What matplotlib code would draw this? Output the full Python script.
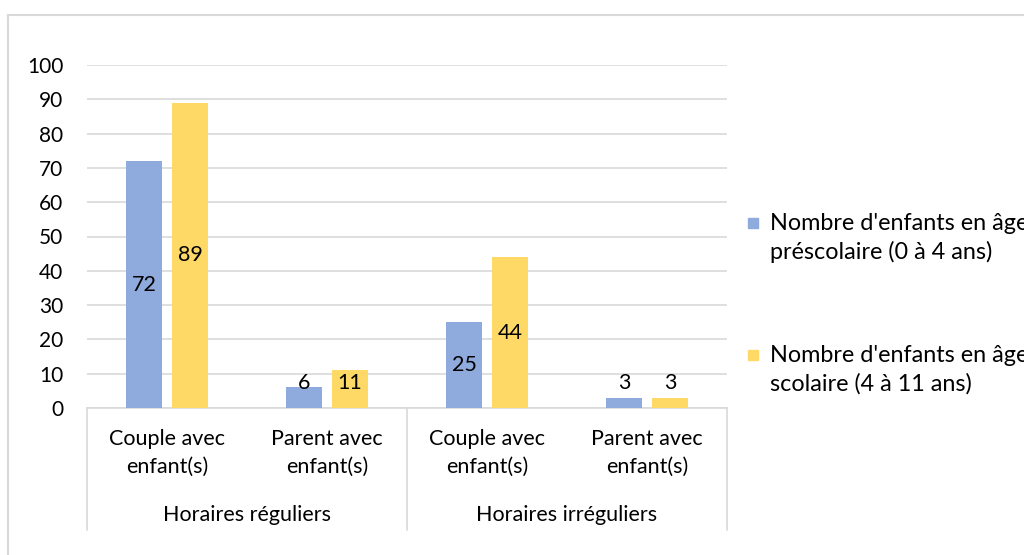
import matplotlib

matplotlib.use("Agg")
import matplotlib.pyplot as plt
from matplotlib.lines import Line2D
from matplotlib.patches import Rectangle

groups = ["Horaires réguliers", "Horaires irréguliers"]
categories = ["Couple avec\nenfant(s)", "Parent avec\nenfant(s)",
              "Couple avec\nenfant(s)", "Parent avec\nenfant(s)"]
series_names = ["Nombre d'enfants en âge\npréscolaire (0 à 4 ans)",
                "Nombre d'enfants en âge\nscolaire (4 à 11 ans)"]
prescolaire = [72, 6, 25, 3]
scolaire = [89, 11, 44, 3]
y_ticks = list(range(0, 101, 10))

BLUE = "#8FAADC"
YELLOW = "#FFD966"
GRID = "#D9D9D9"
FS = 15.5

plt.rcParams["font.family"] = ["Lato", "DejaVu Sans"]

fig = plt.figure(figsize=(10.24, 5.55), dpi=100)
ax = fig.add_axes([87 / 1024, 1 - 408 / 555, 640 / 1024, 343 / 555])

x = list(range(len(categories)))
w = 0.225
off = 0.144
for vals, color, sign in [(prescolaire, BLUE, -1), (scolaire, YELLOW, 1)]:
    xs = [i + sign * off for i in x]
    ax.bar(xs, vals, width=w, color=color, zorder=3)
    for xi, v in zip(xs, vals):
        ax.text(xi, max(v / 2, 7.3), str(v), ha="center", va="center",
                fontsize=FS, color="#000000", zorder=4)

ax.set_xlim(-0.5, 3.5)
ax.set_ylim(0, 100)
ax.set_yticks(y_ticks)
ax.tick_params(axis="y", length=0, pad=17, labelsize=15)
ax.set_xticks([])
ax.grid(axis="y", color=GRID, linewidth=1.2, zorder=0)
for s in ["top", "right", "left"]:
    ax.spines[s].set_visible(False)
ax.spines["bottom"].set_color(GRID)
ax.spines["bottom"].set_linewidth(1.2)

trans = ax.get_xaxis_transform()
for i, lab in enumerate(categories):
    ax.text(i, -0.131, lab, transform=trans, ha="center", va="center",
            fontsize=FS, linespacing=1.55)
for g, lab in enumerate(groups):
    ax.text(g * 2 + 0.5, -0.312, lab, transform=trans, ha="center",
            va="center", fontsize=FS)
for xv in [-0.5, 1.5, 3.5]:
    ax.plot([xv, xv], [0, -0.356], transform=trans, color=GRID,
            linewidth=1.2, clip_on=False)

# chart border (partly cut off by the image edges)
fig.add_artist(Line2D([8 / 1024, 8 / 1024], [0, 1 - 15 / 555],
                      color=GRID, linewidth=1.5))
fig.add_artist(Line2D([8 / 1024, 1], [1 - 15 / 555, 1 - 15 / 555],
                      color=GRID, linewidth=1.5))

# legend, drawn by hand so the line spacing matches
for k, (name, color) in enumerate(zip(series_names, [BLUE, YELLOW])):
    y_top = 223 + k * 132
    fig.add_artist(Rectangle((748 / 1024, 1 - (y_top + 5) / 555),
                             10 / 1024, 10 / 555, color=color))
    fig.text(770 / 1024, 1 - (y_top + 15) / 555, name, ha="left",
             va="center", fontsize=16.8, linespacing=1.42)

fig.savefig("out.png", dpi=100)
